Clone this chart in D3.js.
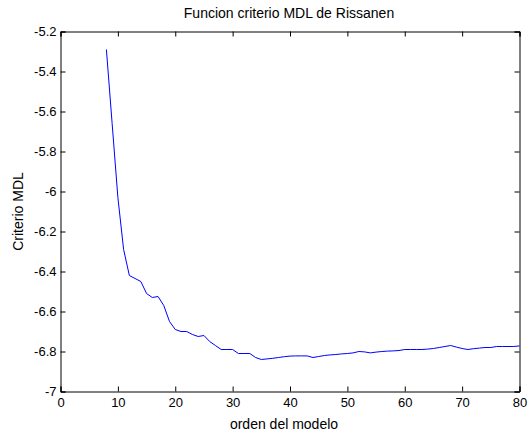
<!DOCTYPE html>
<html>
<head>
<meta charset="utf-8">
<script src="https://cdn.jsdelivr.net/npm/d3@7"></script>
<style>
  html, body { margin: 0; padding: 0; background: #fff; }
  svg text { font-family: "Liberation Sans", Arial, sans-serif; fill: #000; }
</style>
</head>
<body>
<svg id="chart" width="530" height="433"></svg>
<script>
const orders = d3.range(8, 81);
const mdl = [
  -5.29, -5.66, -6.03, -6.29, -6.42, -6.435, -6.45, -6.51, -6.53, -6.525,
  -6.57, -6.65, -6.69, -6.70, -6.70, -6.715, -6.725, -6.72, -6.75, -6.77,
  -6.79, -6.79, -6.79, -6.81, -6.81, -6.81, -6.83, -6.84, -6.837, -6.834,
  -6.83, -6.826, -6.823, -6.822, -6.822, -6.822, -6.83, -6.825, -6.82, -6.817,
  -6.815, -6.812, -6.81, -6.807, -6.80, -6.802, -6.807, -6.803, -6.80, -6.798,
  -6.797, -6.795, -6.79, -6.79, -6.79, -6.79, -6.788, -6.785, -6.78, -6.775,
  -6.77, -6.778, -6.785, -6.79, -6.786, -6.783, -6.78, -6.78, -6.775, -6.775,
  -6.775, -6.775, -6.772
];
const xTicks = [0, 10, 20, 30, 40, 50, 60, 70, 80];
const yTicks = [-7, -6.8, -6.6, -6.4, -6.2, -6, -5.8, -5.6, -5.4, -5.2];
const title = "Funcion criterio MDL de Rissanen";
const xLabel = "orden del modelo";
const yLabel = "Criterio MDL";

(function () {
  const L = 60.5, R = 519.5, T = 31.5, B = 391.5;
  const svg = d3.select("#chart");
  const x = d3.scaleLinear().domain([0, 80]).range([L, R]);
  const y = d3.scaleLinear().domain([-7, -5.2]).range([B, T]);
  const tl = 5;

  const gx = svg.append("g").attr("transform", `translate(0,${B})`)
    .call(d3.axisBottom(x).tickValues(xTicks).tickSize(-tl).tickPadding(6).tickFormat(d => String(d)));
  const gxt = svg.append("g").attr("transform", `translate(0,${T})`)
    .call(d3.axisTop(x).tickValues(xTicks).tickSize(-tl).tickFormat(""));
  const gy = svg.append("g").attr("transform", `translate(${L},0)`)
    .call(d3.axisLeft(y).tickValues(yTicks).tickSize(-tl).tickPadding(4)
      .tickFormat(d => String(+d.toFixed(1))));
  const gyr = svg.append("g").attr("transform", `translate(${R},0)`)
    .call(d3.axisRight(y).tickValues(yTicks).tickSize(-tl).tickFormat(""));

  [gx, gxt, gy, gyr].forEach(g => {
    g.select(".domain").attr("stroke", "#000").attr("stroke-width", 1);
    g.selectAll(".tick line").attr("stroke", "#000");
    g.selectAll("text").attr("font-size", 13)
      .attr("font-family", "Liberation Sans, Arial, sans-serif").attr("fill", "#000");
  });

  const line = d3.line().x((d, i) => x(orders[i])).y(d => y(d));
  svg.append("path").datum(mdl)
    .attr("d", line)
    .attr("fill", "none")
    .attr("stroke", "#0000ff")
    .attr("stroke-width", 1);

  svg.append("text").attr("x", 289).attr("y", 18)
    .attr("text-anchor", "middle").attr("font-size", 14).text(title);
  svg.append("text").attr("x", 284).attr("y", 429)
    .attr("text-anchor", "middle").attr("font-size", 14).text(xLabel);
  svg.append("text")
    .attr("transform", `translate(23,${(T + B) / 2}) rotate(-90)`)
    .attr("text-anchor", "middle").attr("font-size", 14).text(yLabel);
})();
</script>
</body>
</html>
